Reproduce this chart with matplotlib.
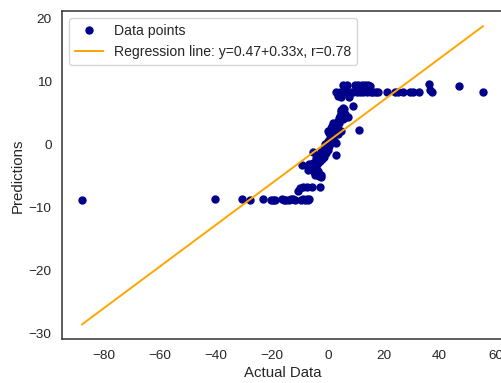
import matplotlib
matplotlib.use("Agg")
import matplotlib.pyplot as plt

plt.rcParams["font.family"] = ["Liberation Sans", "DejaVu Sans"]

# Observed values and model predictions
actual = [
    -87.9, -40.4, -30.6, -27.8, -23.2, -20.3, -19.6, -18.9, -16.3, -15.6,
    -14.8, -14.0, -13.1, -12.3, -11.6, -9.6, -9.0, -8.3, -7.6, -7.0, -6.6,
    -10.7, -9.9, -8.8, -7.4, -5.5, -2.9,
    -9.3, -6.6, -7.0, -6.0, -5.4, -5.0, -4.6, -4.1, -3.6, -3.2, -2.6, -2.3,
    -3.5, -2.9, -5.3, -4.2, -3.8, -2.0, -1.6, -1.2, -0.8, -2.4, -1.4,
    -0.6, -0.3, 0.0, 0.2, 0.5, 0.8, -0.9, 1.0, 1.3, 1.6, 2.0, 2.4, 2.8, 3.1,
    0.1, 0.6, 1.0, 1.4, 1.9, 2.2, 2.6, 3.0, 3.3, 3.7, 3.5, 4.0, 4.3, 4.6,
    4.9, 5.3, 5.8, 6.2, 6.6, 7.3, 4.9, 5.4, 4.1, 2.9,
    8.9, 11.2,
    3.1, 3.6, 4.3, 4.8, 5.5, 6.0, 6.7, 7.3, 7.7, 8.2, 9.1, 9.7, 10.3, 10.9,
    11.5, 12.1, 12.7, 13.3, 13.9, 14.4, 15.1, 15.4, 16.3, 17.2, 18.0, 21.0,
    24.0, 25.0, 27.0, 29.4, 30.5, 32.6, 36.1, 36.6, 37.2, 47.1, 55.5,
]
predicted = [
    -8.8, -8.7, -8.7, -8.8, -8.7, -8.8, -8.8, -8.8, -8.7, -8.8,
    -8.8, -8.8, -8.7, -8.7, -8.8, -8.8, -8.7, -8.8, -8.7, -8.8, -8.7,
    -7.3, -6.9, -6.7, -6.7, -6.7, -6.7,
    -3.3, -3.1, -4.1, -3.6, -3.0, -4.4, -4.8, -3.5, -4.2, -5.0, -5.2, -4.9,
    -3.0, -2.6, -1.1, -2.2, -1.8, -2.3, -1.6, -2.0, -1.3, -1.2, -0.7,
    -0.4, 0.2, -0.9, 0.6, -0.2, 1.0, 0.1, 0.3, 1.4, 0.8, 1.2, 0.4, 0.2, -1.7,
    2.2, 1.9, 2.6, 3.0, 3.5, 2.6, 3.3, 3.0, 3.6, 1.6, 2.4, 4.2, 4.6, 5.2,
    5.5, 5.8, 5.6, 4.9, 4.3, 4.4, 2.2, 4.0, 3.5, 2.0,
    6.2, 2.3,
    8.4, 7.7, 8.3, 7.6, 9.4, 8.4, 9.4, 8.4, 7.5, 8.4, 8.4, 9.4, 8.4, 9.4,
    8.4, 9.4, 8.4, 9.5, 8.4, 9.4, 9.3, 8.4, 8.4, 8.4, 8.4, 8.4,
    8.4, 8.4, 8.4, 8.4, 8.4, 8.4, 9.6, 8.6, 8.4, 9.3, 8.4,
]

# Fitted regression parameters
intercept = 0.47
slope = 0.33
r_value = 0.78

text_color = "#262626"

fig = plt.figure(figsize=(5.02, 3.83), dpi=100)
ax = fig.add_axes([0.1235, 0.1141, 0.8785, 0.8564])

ax.plot(actual, predicted, "o", color="darkblue", markersize=5,
        label="Data points")

x_line = [min(actual), max(actual)]
y_line = [intercept + slope * v for v in x_line]
ax.plot(x_line, y_line, color="orange", linewidth=1.4,
        label=f"Regression line: y={intercept:.2f}+{slope:.2f}x, r={r_value:.2f}")

ax.set_xticks([-80, -60, -40, -20, 0, 20, 40, 60])
ax.set_yticks([-30, -20, -10, 0, 10, 20])

ax.set_xlabel("Actual Data", fontsize=10.8, color=text_color, labelpad=3)
ax.set_ylabel("Predictions", fontsize=10.8, color=text_color, labelpad=3)
ax.tick_params(axis="both", length=0, pad=7.5, labelsize=9.7,
               labelcolor=text_color)

for side in ax.spines.values():
    side.set_color("#333333")
    side.set_linewidth(1.1)

leg = ax.legend(loc="upper left", fontsize=10.1, numpoints=1,
                frameon=True, fancybox=True, edgecolor="#cccccc")
for t in leg.get_texts():
    t.set_color(text_color)

fig.savefig("out.png", dpi=100)
